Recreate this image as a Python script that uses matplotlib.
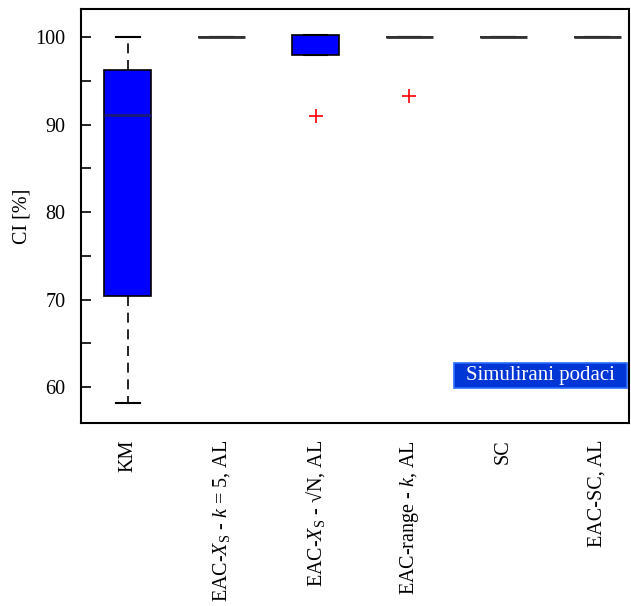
import numpy as np
import matplotlib
matplotlib.use('Agg')
import matplotlib.pyplot as plt
from matplotlib.patches import Rectangle

plt.rcParams['font.family'] = ['Liberation Serif', 'DejaVu Serif']
plt.rcParams['mathtext.fontset'] = 'custom'
plt.rcParams['mathtext.rm'] = 'Liberation Serif'
plt.rcParams['mathtext.it'] = 'Liberation Serif:italic'

# kategorije i statistike boxplota (ocitano sa slike)
labels = ['KM',
          r'EAC-$X_{\mathrm{S}}$ - $k$ = 5, AL',
          r'EAC-$X_{\mathrm{S}}$ - √N, AL',
          r'EAC-range - $k$, AL',
          'SC',
          'EAC-SC, AL']
whislo = [58.2, 100.0, 97.9, 100.0, 100.0, 100.0]
q1 = [70.4, 100.0, 97.9, 100.0, 100.0, 100.0]
med = [91.1, 100.0, 100.0, 100.0, 100.0, 100.0]
q3 = [96.2, 100.0, 100.2, 100.0, 100.0, 100.0]
whishi = [100.0, 100.0, 100.2, 100.0, 100.0, 100.0]
fliers = [[], [], [91.0], [93.3], [], []]

stats = []
for i in range(len(labels)):
    stats.append({'whislo': whislo[i], 'q1': q1[i], 'med': med[i],
                  'q3': q3[i], 'whishi': whishi[i], 'fliers': fliers[i]})

fig = plt.figure(figsize=(6.31, 6.06), dpi=100)
ax = fig.add_axes([81/631, 1-423/606, 548/631, 414/606])

pos = np.arange(1, len(labels)+1)
bp = ax.bxp(stats, positions=pos, widths=0.5, patch_artist=True,
            boxprops=dict(facecolor='#0000ff', edgecolor='black', linewidth=1.2),
            medianprops=dict(color='#1a1a7a', linewidth=2),
            whiskerprops=dict(color='black', linestyle=(0, (6, 4)), linewidth=1.2),
            capprops=dict(color='black', linewidth=1.5),
            capwidths=0.25,
            flierprops=dict(marker='+', markeredgecolor='red', markersize=10,
                            markeredgewidth=1.2, linestyle='none'))
# "spljošteni" boxovi -> samo tamno-siva linija
for i in range(1, len(labels)):
    if q1[i] == q3[i]:
        bp['medians'][i].set_color('#333333')
bp['medians'][2].set_visible(False)

ax.set_xlim(0.5, 6.34)
ax.set_ylim(55.9, 103.2)
ax.set_yticks([60, 70, 80, 90, 100])
ax.set_yticks([65, 75, 85, 95], minor=True)
ax.tick_params(axis='y', which='both', direction='in', length=7, width=1.2,
               labelsize=14.5, pad=11)
ax.tick_params(axis='x', length=0, labelsize=14.5, pad=12)
ax.set_xticks(pos)
ax.set_xticklabels(labels, rotation=90, va='top', ha='center')
ax.set_ylabel('CI [%]', fontsize=14.5)
ax.yaxis.set_label_coords(-0.09, 0.5)
for s in ax.spines.values():
    s.set_linewidth(1.5)

# oznaka "Simulirani podaci"
ax.add_patch(Rectangle((0.6807, 0.0845), 0.3157, 0.0604, transform=ax.transAxes,
                       facecolor='#0036d6', edgecolor='#2a6cff', linewidth=1.2))
ax.text(0.6807+0.3157/2, 0.0845+0.0604/2, 'Simulirani podaci', transform=ax.transAxes,
        ha='center', va='center', color='white', fontsize=15)

fig.savefig('out.png', dpi=100)
